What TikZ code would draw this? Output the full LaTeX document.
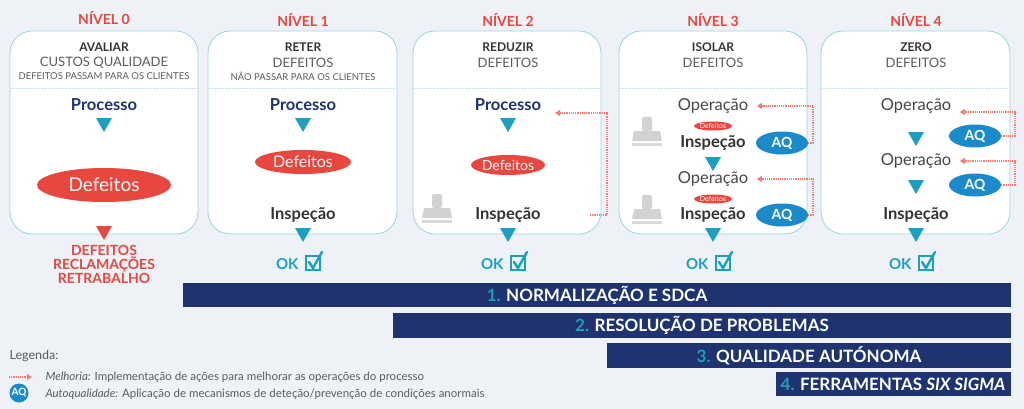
\documentclass[tikz,border=0pt]{standalone}
\usepackage{fontspec}
\setmainfont{Lato}
\usetikzlibrary{shapes.geometric,arrows.meta}
\definecolor{bg}{HTML}{EEF2F6}
\definecolor{bx}{HTML}{9FD3E2}
\definecolor{rd}{HTML}{E8473F}
\definecolor{nv}{HTML}{1E3370}
\definecolor{tl}{HTML}{1AA0C0}
\definecolor{aq}{HTML}{1B8ACB}
\definecolor{tx}{HTML}{333333}
\newcommand{\fs}[1]{\fontsize{#1}{#1}\selectfont}
\newcommand{\mytri}[3]{\fill[#3] (#1-8,#2-7) -- (#1+8,#2-7) -- (#1,#2+7) -- cycle;}
\newcommand{\myok}[2]{%
 \node[text=tl,font=\fs{15}\bfseries,anchor=east] (ok#1) at (#2-1,264) {OK};
 \draw[tl,line width=2pt] (#2+3,256) rectangle (#2+17,270);
 \draw[tl,line width=2.4pt,line cap=round] (#2+6,262) -- (#2+10,268) -- (#2+19,252);}
\newcommand{\mystamp}[2]{%
 \fill[gray!35,rounded corners=2pt] (#1-5,#2-16) rectangle (#1+5,#2-2);
 \fill[gray!35] (#1-13,#2-2) -- (#1+13,#2-2) -- (#1+15,#2+8) -- (#1-15,#2+8) -- cycle;
 \fill[gray!30] (#1-15,#2+10) rectangle (#1+15,#2+13);}
\tikzset{
 lvl/.style={text=rd,font=\fs{14}\bfseries},
 box/.style={draw=bx,fill=white,rounded corners=22pt,line width=0.8pt},
 t1/.style={text=tx,font=\fs{12}\bfseries},
 t2/.style={text=tx!80,font=\fs{13}},
 t3/.style={text=tx!80,font=\fs{9.5}},
 proc/.style={text=nv,font=\fs{16.5}\bfseries},
 insp/.style={text=tx,font=\fs{16.5}\bfseries},
 oper/.style={text=tx!90,font=\fs{16.5}},
 def/.style={ellipse,fill=rd,text=white,inner sep=0pt},
 aqn/.style={ellipse,fill=aq,text=white,font=\fs{14}\bfseries,minimum width=52pt,minimum height=23pt,inner sep=0pt},
 imp/.style={draw=rd!70,densely dotted,line width=1.2pt,-{Triangle[length=5pt,width=6pt]}},
 band/.style={fill=nv,text=white,font=\fs{17}\bfseries},
 leg/.style={text=tx!80,font=\fs{11.5}},
}
\begin{document}
\begin{tikzpicture}[x=1pt,y=-1pt]
\fill[bg] (0,0) rectangle (1024,409);
\useasboundingbox (0,0) rectangle (1024,409);
% boxes
\foreach \a/\b in {10/198,208/397,413/601,619/807,821/1010}{
 \draw[box] (\a,31) rectangle (\b,234);
 \draw[bx!60,densely dotted] (\a,88) -- (\b,88);}
% level 0
\node[lvl] (l0) at (104,18) {NÍVEL 0};
\node[t1] at (104,47) {AVALIAR};
\node[t2] at (104,63) {CUSTOS QUALIDADE};
\node[t3] at (104,76) {DEFEITOS PASSAM PARA OS CLIENTES};
\node[proc] (p0) at (104,105) {Processo};
\mytri{104}{125}{tl}
\node[def,minimum width=134pt,minimum height=34pt,font=\fs{19}] (d0) at (104,185) {Defeitos};
\mytri{104}{233}{rd}
\node[text=rd,font=\fs{14}\bfseries,align=center] (r0) at (104,264) {DEFEITOS\\[0pt]RECLAMAÇÕES\\[0pt]RETRABALHO};
% level 1
\node[lvl] (l1) at (303,20) {NÍVEL 1};
\node[t1] at (303,47) {RETER};
\node[t2] at (303,63) {DEFEITOS};
\node[t3] at (303,76) {NÃO PASSAR PARA OS CLIENTES};
\node[proc] (p1) at (303,105) {Processo};
\mytri{303}{125}{tl}
\node[def,minimum width=96pt,minimum height=24pt,font=\fs{16}] (d1) at (303,162) {Defeitos};
\node[insp] (i1) at (303,215) {Inspeção};
\mytri{303}{235}{tl}
\myok{1}{303}
% level 2
\node[lvl] (l2) at (508,20) {NÍVEL 2};
\node[t1] at (508,47) {REDUZIR};
\node[t2] at (508,63) {DEFEITOS};
\node[proc] (p2) at (508,105) {Processo};
\mytri{508}{125}{tl}
\node[def,minimum width=67pt,minimum height=20pt,font=\fs{14}] (d2) at (508,165) {Defeitos};
\mystamp{437}{210}
\node[insp] (i2) at (508,215) {Inspeção};
\mytri{508}{235}{tl}
\myok{2}{508}
\coordinate (c2a) at (590,215);
\coordinate (c2b) at (555,113);
\draw[imp] (c2a) -- (607,215) -- (607,113) -- (c2b);
% level 3
\node[lvl] (l3) at (713,20) {NÍVEL 3};
\node[t1] at (713,47) {ISOLAR};
\node[t2] at (713,63) {DEFEITOS};
\node[oper] (o3a) at (713,106) {Operação};
\node[def,minimum width=38pt,minimum height=9pt,font=\fs{7}] (d3a) at (713,126) {Defeitos};
\mystamp{647}{133}
\node[insp] (i3a) at (713,143) {Inspeção};
\node[aqn] (aq3a) at (782,143) {AQ};
\mytri{713}{164}{tl}
\node[oper] (o3b) at (713,179) {Operação};
\node[def,minimum width=38pt,minimum height=9pt,font=\fs{7}] (d3b) at (713,199) {Defeitos};
\mystamp{647}{211}
\node[insp] (i3b) at (713,215) {Inspeção};
\node[aqn] (aq3b) at (782,215) {AQ};
\mytri{713}{235}{tl}
\myok{3}{713}
\draw[imp] (aq3a.east) -- (813,143) -- (813,106) -- ([xshift=5pt]o3a.east);
\draw[imp] (aq3b.east) -- (813,215) -- (813,179) -- ([xshift=5pt]o3b.east);
% level 4
\node[lvl] (l4) at (916,20) {NÍVEL 4};
\node[t1] at (916,47) {ZERO};
\node[t2] at (916,63) {DEFEITOS};
\node[oper] (o4a) at (916,106) {Operação};
\mytri{916}{139}{tl}
\node[oper] (o4b) at (916,161) {Operação};
\mytri{916}{187}{tl}
\node[insp] (i4) at (916,215) {Inspeção};
\mytri{916}{235}{tl}
\myok{4}{916}
\node[aqn] (aq4a) at (975,136) {AQ};
\node[aqn] (aq4b) at (975,185) {AQ};
\draw[imp] (aq4a.east) -- (1015,136) -- (1015,112) -- ([xshift=5pt]o4a.east|-0,112);
\draw[imp] (aq4b.east) -- (1015,185) -- (1015,161) -- ([xshift=5pt]o4b.east);
% bands
\fill[nv] (183,283) rectangle (1011,307);
\node[band] (b1) at (597,295) {\textcolor{tl}{1.} NORMALIZAÇÃO E SDCA};
\fill[nv] (393,313) rectangle (1011,338);
\node[band] (b2) at (702,325.5) {\textcolor{tl}{2.} RESOLUÇÃO DE PROBLEMAS};
\fill[nv] (607,343) rectangle (1011,368);
\node[band] (b3) at (809,355.5) {\textcolor{tl}{3.} QUALIDADE AUTÓNOMA};
\fill[nv] (776,372) rectangle (1011,396);
\node[band] (b4) at (893,384) {\textcolor{tl}{4.} FERRAMENTAS \textit{SIX SIGMA}};
% legend
\node[leg,anchor=west,font=\fs{12.5}] (lg) at (6,356) {Legenda:};
\coordinate (la) at (9,377);
\coordinate (lb) at (32,377);
\draw[imp] (la) -- (lb);
\node[leg,anchor=west] (lt1) at (42,377) {\textit{Melhoria:} Implementação de ações para melhorar as operações do processo};
\node[circle,fill=aq,text=white,font=\fs{10}\bfseries,minimum size=19pt,inner sep=0pt] (laq) at (19,393) {AQ};
\node[leg,anchor=west] (lt2) at (42,394) {\textit{Autoqualidade:} Aplicação de mecanismos de deteção/prevenção de condições anormais};
\end{tikzpicture}
\end{document}
